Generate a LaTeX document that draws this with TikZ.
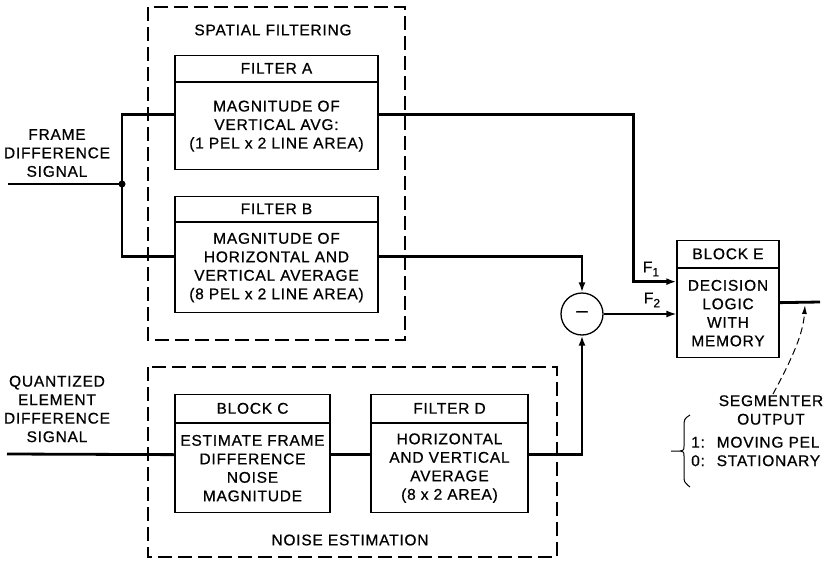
\documentclass[tikz,border=0pt]{standalone}
\usepackage{fontspec}
\setmainfont{Liberation Sans}[LetterSpace=5, FakeBold=0.7]
\usetikzlibrary{arrows.meta}

\begin{document}
\begin{tikzpicture}[
            x=1pt, y=-1pt,
            font=\fontsize{15.5}{18.5}\selectfont,
            blockhead/.style={
                draw, line width=1.3pt, minimum width=#1, minimum height=27pt,
                inner sep=0pt, anchor=south
            },
            blockbody/.style={
                draw, line width=1.3pt, minimum width=#1, minimum height=89pt,
                inner sep=0pt, align=center, anchor=north
            },
            group/.style={draw, line width=1.3pt, dash pattern=on 14pt off 6pt},
            sig/.style={line width=2.8pt},
            tip/.style={-{Latex[length=10pt,width=7pt]}}
        ]
        \useasboundingbox (0,0) rectangle (825,562);

        % --- Spatial filtering ---
        \draw[group] (148,7) rectangle (405,340);
        \node (sftxt) at (273,30) {SPATIAL FILTERING};

        \node[blockbody=203pt, minimum height=87pt] (fab) at (276.5,82)
        {MAGNITUDE OF\\VERTICAL AVG:\\(1 PEL x 2 LINE AREA)};
        \node[blockhead=203pt, minimum height=26pt] (fah) at (fab.north) {FILTER A};

        \node[blockbody=203pt, minimum height=90pt] (fbb) at (276.5,222)
        {MAGNITUDE OF\\HORIZONTAL AND\\VERTICAL AVERAGE\\(8 PEL x 2 LINE AREA)};
        \node[blockhead=203pt, minimum height=25pt] (fbh) at (fbb.north) {FILTER B};

        % --- Noise estimation ---
        \draw[group] (148,367) rectangle (557,557);
        \node (netxt) at (350,540) {NOISE ESTIMATION};

        \node[blockbody=155pt] (bcb) at (252.5,423)
        {ESTIMATE FRAME\\DIFFERENCE\\NOISE\\MAGNITUDE};
        \node[blockhead=155pt, minimum height=28pt] (bch) at (bcb.north) {BLOCK C};

        \node[blockbody=157pt] (fdb) at (449.5,423)
        {HORIZONTAL\\AND VERTICAL\\AVERAGE\\(8 x 2 AREA)};
        \node[blockhead=157pt, minimum height=28pt] (fdh) at (fdb.north) {FILTER D};

        % --- Decision ---
        \node[draw, circle, line width=1.3pt, minimum size=42pt, inner sep=0pt] (sub) at (582,314)
        {\fontsize{20}{20}\selectfont –};
        \node[blockbody=102pt] (beb) at (728,268)
        {DECISION\\LOGIC\\WITH\\MEMORY};
        \node[blockhead=102pt] (beh) at (beb.north) {BLOCK E};

        % --- Inputs ---
        \node[align=center] (fdtxt) at (57,153) {FRAME\\DIFFERENCE\\SIGNAL};
        \node[align=center] (qetxt) at (57,409) {QUANTIZED\\ELEMENT\\DIFFERENCE\\SIGNAL};
        \coordinate (fdin) at (8,184);
        \coordinate (qein) at (7,454);
        \coordinate (jn) at (122,184);

        % --- Connectors ---
        \draw[sig] (fdin) -- (jn);
        \fill (jn) circle (3.5pt);
        \draw[sig] (jn) |- ([yshift=11.5pt]fab.west);
        \draw[sig] (jn) |- ([yshift=11pt]fbb.west);
        \draw[sig] (qein) -- ([yshift=13.5pt]bcb.west);
        \draw[sig] ([yshift=13.5pt]bcb.east) -- ([yshift=13.5pt]fdb.west);

        \draw[sig, tip] ([yshift=11pt]fbb.east) -| (sub.north);
        \draw[sig, tip] ([yshift=13.5pt]fdb.east) -| (sub.south);
        \draw[sig, tip] ([yshift=11.5pt]fab.east) -- ++(255,0) |- ([yshift=31.5pt]beb.west);
        \draw[line width=1.5pt, tip] (sub.east) -- (beb.west |- sub.east);
        \node (f1) at (651,269) {F{\fontsize{12}{12}\selectfont\raisebox{-4pt}{1}}};
        \node (f2) at (652,300) {F{\fontsize{12}{12}\selectfont\raisebox{-4pt}{2}}};

        % --- Output ---
        \coordinate (segout) at (820,302);
        \coordinate (tap) at (805,305);
        \draw[sig] ([yshift=10.5pt]beb.east) -- (segout);
        \node[align=center, inner sep=1pt] (seg) at (771,410) {SEGMENTER\\OUTPUT};
        \draw[line width=1pt, dash pattern=on 7pt off 4pt, -{Latex[length=9pt,width=5pt]}]
            ([xshift=2pt]seg.north) .. controls (790,362) and (803,336) .. (tap);
        \node[align=left, inner sep=0pt, anchor=west] (states) at (691,451.5)
        {1:~ MOVING PEL\\0:~ STATIONARY};
        \draw[line width=1pt] (690,415) .. controls (684,419) .. (684,428) -- (684,446)
            .. controls (684,450) .. (680,451) -- (671,451)
            (680,451) .. controls (684,452) .. (684,456) -- (684,475)
            .. controls (684,482) .. (690,487);

    \end{tikzpicture}
\end{document}
